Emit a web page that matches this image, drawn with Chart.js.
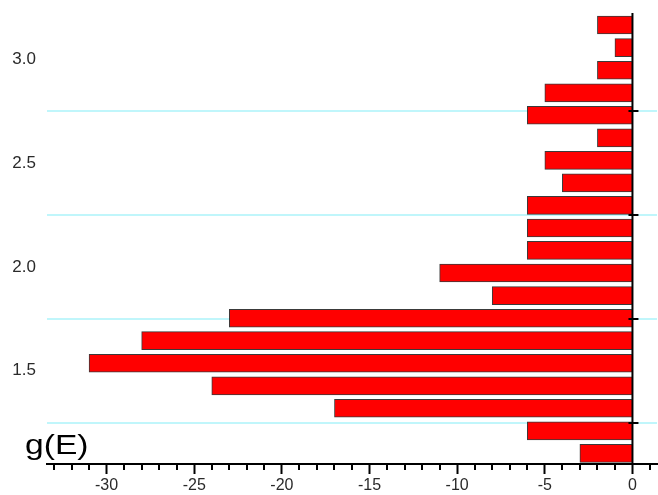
<!DOCTYPE html>
<html>
<head>
<meta charset="utf-8">
<script src="https://cdn.jsdelivr.net/npm/chart.js@4"></script>
<style>
  html, body { margin: 0; padding: 0; background: #ffffff; }
  canvas { display: block; }
</style>
</head>
<body>
<canvas id="c" width="658" height="495"></canvas>
<script>
// Bin centres (energy E), bottom to top
const energies = [1.101, 1.210, 1.319, 1.427, 1.536, 1.645, 1.753, 1.862, 1.971, 2.080,
                  2.188, 2.297, 2.406, 2.514, 2.623, 2.732, 2.840, 2.949, 3.058, 3.167];
// g(E) values for each bin
const gValues = [-3, -6, -17, -24, -31, -28, -23, -8, -11, -6,
                 -6, -6, -4, -5, -2, -6, -5, -2, -1, -2];
// Axis tick labels
const yTickLabels = ['1.5', '2.0', '2.5', '3.0'];
const xTickLabels = ['-30', '-25', '-20', '-15', '-10', '-5', '0'];
const gridValues = [1.25, 1.75, 2.25, 2.75];
const axisTitle = 'g(E)';

const near = (a, b) => Math.abs(a - b) < 1e-6;

const overlayPlugin = {
  id: 'overlay',
  beforeDatasetsDraw(chart) {
    const { ctx, chartArea, scales } = chart;
    ctx.save();
    ctx.strokeStyle = '#c0f6fb';
    ctx.lineWidth = 2;
    gridValues.forEach(v => {
      const py = Math.round(scales.y.getPixelForValue(v));
      ctx.beginPath();
      ctx.moveTo(chartArea.left, py);
      ctx.lineTo(chartArea.right, py);
      ctx.stroke();
    });
    ctx.restore();
  },
  afterDraw(chart) {
    const { ctx, chartArea, scales } = chart;
    ctx.save();
    // zero line
    const x0 = scales.x.getPixelForValue(0);
    ctx.strokeStyle = '#000';
    ctx.lineWidth = 2;
    ctx.beginPath();
    ctx.moveTo(x0, chartArea.top);
    ctx.lineTo(x0, chartArea.bottom);
    ctx.stroke();
    gridValues.forEach(v => {
      const py = Math.round(scales.y.getPixelForValue(v));
      ctx.beginPath();
      ctx.moveTo(x0 - 4, py);
      ctx.lineTo(x0 + 6, py);
      ctx.stroke();
    });
    // minor x ticks
    const xs = scales.x;
    for (let v = Math.ceil(xs.min); v <= Math.floor(xs.max); v++) {
      if (v % 5 === 0) continue;
      const px = Math.round(xs.getPixelForValue(v));
      ctx.beginPath();
      ctx.moveTo(px, chartArea.bottom);
      ctx.lineTo(px, chartArea.bottom + 6);
      ctx.stroke();
    }
    // g(E) label
    ctx.fillStyle = '#000';
    ctx.font = '28px "Liberation Sans", Arial, sans-serif';
    ctx.textBaseline = 'alphabetic';
    ctx.translate(25, 453.5);
    ctx.scale(1.2, 1);
    ctx.fillText(axisTitle, 0, 0);
    ctx.restore();
  }
};

new Chart(document.getElementById('c'), {
  type: 'bar',
  data: {
    datasets: [{
      data: energies.map((e, i) => ({ x: gValues[i], y: e })),
      backgroundColor: '#ff0000',
      borderColor: '#3a3a3a',
      borderWidth: 1,
      barThickness: 18
    }]
  },
  options: {
    indexAxis: 'y',
    responsive: false,
    devicePixelRatio: 1,
    animation: false,
    layout: { padding: { top: 13, right: 1, left: 0, bottom: 0 } },
    plugins: { legend: { display: false }, tooltip: { enabled: false } },
    scales: {
      x: {
        type: 'linear',
        position: 'bottom',
        min: -33.4,
        max: 1.4,
        offset: false,
        afterFit: s => { s.height = 31; s.paddingLeft = 0; s.paddingRight = 0; },
        ticks: {
          stepSize: 5,
          includeBounds: false,
          autoSkip: false,
          maxRotation: 0,
          color: '#2a2a2a',
          padding: 2,
          font: { family: '"Liberation Sans", Arial, sans-serif', size: 16 },
          callback: v => xTickLabels.find(t => near(Number(t), v)) ?? ''
        },
        grid: { drawOnChartArea: false, drawTicks: true, tickLength: 10, tickColor: '#000', tickWidth: 2 },
        border: { display: true, color: '#000', width: 2 }
      },
      y: {
        type: 'linear',
        position: 'left',
        min: 1.05,
        max: 3.225,
        offset: false,
        afterFit: s => { s.width = 47; s.paddingTop = 0; s.paddingBottom = 0; },
        ticks: {
          stepSize: 0.25,
          includeBounds: false,
          autoSkip: false,
          color: '#2a2a2a',
          padding: 11,
          font: { family: '"Liberation Sans", Arial, sans-serif', size: 17 },
          callback: v => yTickLabels.find(t => near(Number(t), v)) ?? ''
        },
        grid: { display: false, drawTicks: false },
        border: { display: false }
      }
    }
  },
  plugins: [overlayPlugin]
});
</script>
</body>
</html>
